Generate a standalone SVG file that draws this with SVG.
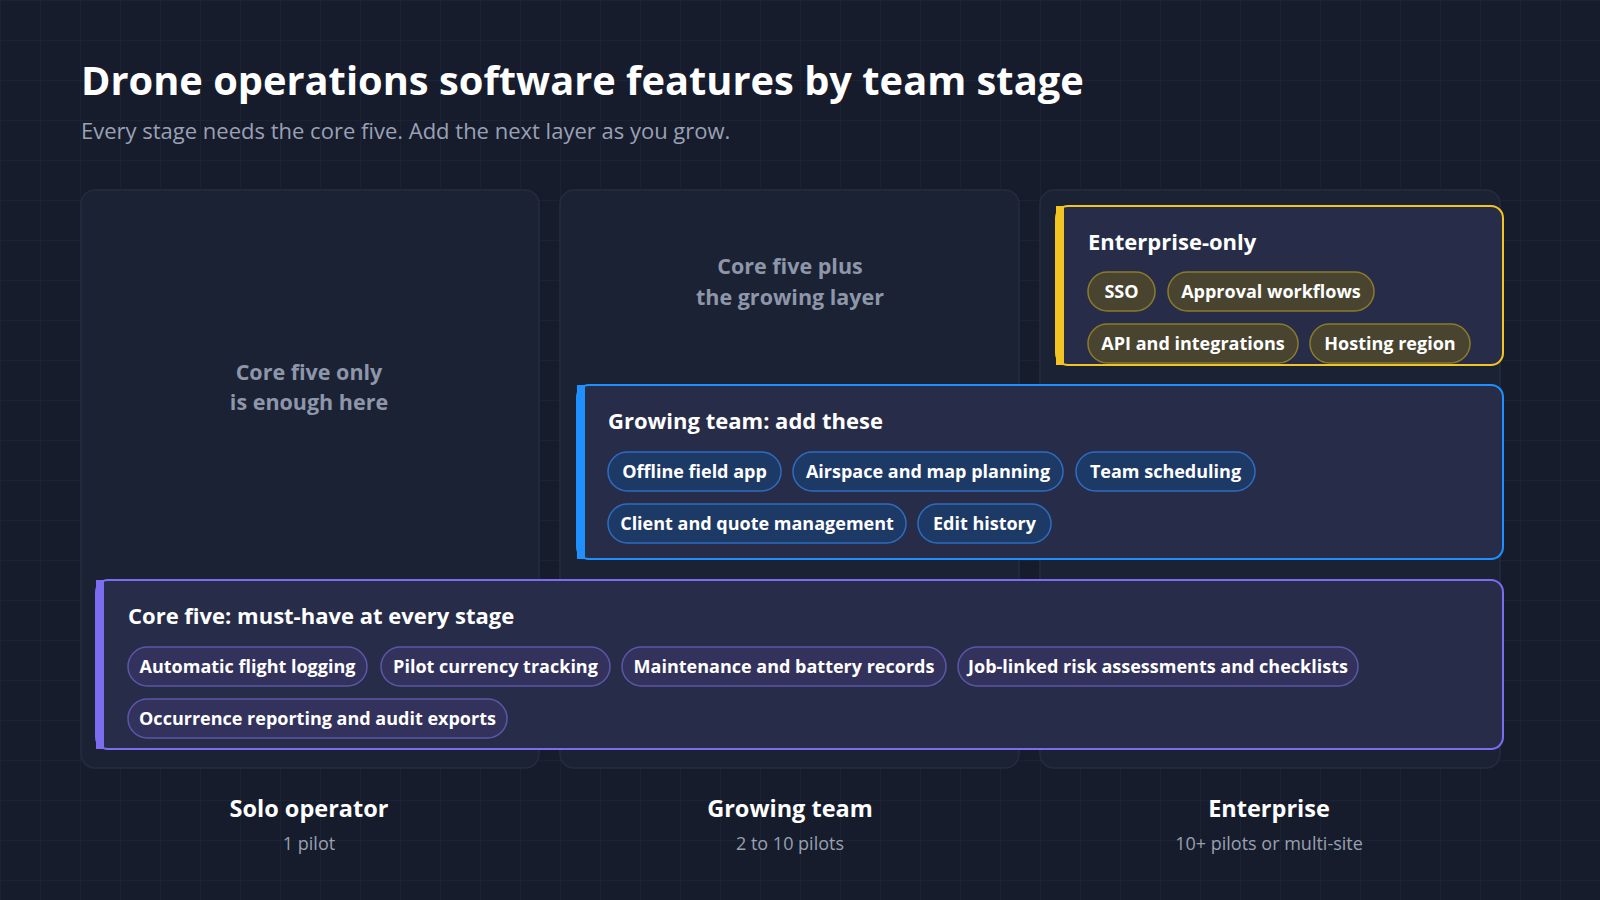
<svg xmlns="http://www.w3.org/2000/svg" width="1600" height="900" viewBox="0 0 1600 900">
<defs>
<pattern id="grid" width="40" height="40" patternUnits="userSpaceOnUse"><path d="M40 0H0V40" fill="none" stroke="#1f2739" stroke-width="1"/></pattern>
<style>
text{font-family:"Open Sans","Noto Sans",sans-serif}
.col{fill:#1b2234;stroke:#242c40;stroke-width:1.5}
.ct{fill:#8e96aa;font-size:21.5px;font-weight:700;text-anchor:middle}
.bt{fill:#ffffff;font-size:22px;font-weight:700}
.pt{fill:#ffffff;font-size:18px;font-weight:700;text-anchor:middle}
.yp{fill:#48442f;stroke:#8c7a2c;stroke-width:1.5}
.bp{fill:#1d3965;stroke:#2e6cc0;stroke-width:1.5}
.vp{fill:#33325c;stroke:#5b57a8;stroke-width:1.5}
.lab{fill:#fff;font-size:23.5px;font-weight:700;text-anchor:middle}
.sub{fill:#99a0b0;font-size:18px;text-anchor:middle}
</style>
</defs>
<rect width="1600" height="900" fill="#161c2c"/>
<rect width="1600" height="900" fill="url(#grid)"/>
<text x="81" y="95" fill="#fff" font-size="39.8" font-weight="700">Drone operations software features by team stage</text>
<text x="81" y="139" fill="#9aa1b4" font-size="22">Every stage needs the core five. Add the next layer as you grow.</text>
<g id="col-solo"><rect class="col" x="81" y="190" width="458" height="578" rx="14"/>
<text class="ct" x="309" y="380">Core five only</text><text class="ct" x="309" y="410">is enough here</text>
<text class="lab" x="309" y="817">Solo operator</text><text class="sub" x="309" y="850">1 pilot</text></g>
<g id="col-growing"><rect class="col" x="560" y="190" width="459" height="578" rx="14"/>
<text class="ct" x="790" y="274">Core five plus</text><text class="ct" x="790" y="305">the growing layer</text>
<text class="lab" x="790" y="817">Growing team</text><text class="sub" x="790" y="850">2 to 10 pilots</text></g>
<g id="col-enterprise"><rect class="col" x="1040" y="190" width="460" height="578" rx="14"/>
<text class="lab" x="1269" y="817">Enterprise</text><text class="sub" x="1269" y="850">10+ pilots or multi-site</text></g>
<g id="enterprise-only">
<rect x="1056" y="206" width="447" height="159" rx="12" fill="#272d48" stroke="#f2c523" stroke-width="2"/>
<rect x="1056" y="206" width="8" height="159" fill="#f2c523"/>
<text class="bt" x="1088" y="250">Enterprise-only</text>
<rect class="yp" x="1088" y="272" width="67" height="39" rx="19.5"/><text class="pt" x="1121.5" y="298">SSO</text>
<rect class="yp" x="1168" y="272" width="206" height="39" rx="19.5"/><text class="pt" x="1271" y="298">Approval workflows</text>
<rect class="yp" x="1088" y="324" width="210" height="39" rx="19.5"/><text class="pt" x="1193" y="350">API and integrations</text>
<rect class="yp" x="1310" y="324" width="160" height="39" rx="19.5"/><text class="pt" x="1390" y="350">Hosting region</text>
</g>
<g id="growing-layer">
<rect x="577" y="385" width="926" height="174" rx="12" fill="#272d48" stroke="#1e90ff" stroke-width="2"/>
<rect x="577" y="385" width="8" height="174" fill="#1e90ff"/>
<text class="bt" x="608" y="429">Growing team: add these</text>
<rect class="bp" x="608" y="452" width="173" height="39" rx="19.5"/><text class="pt" x="694.5" y="478">Offline field app</text>
<rect class="bp" x="793" y="452" width="270" height="39" rx="19.5"/><text class="pt" x="928" y="478">Airspace and map planning</text>
<rect class="bp" x="1076" y="452" width="179" height="39" rx="19.5"/><text class="pt" x="1165.5" y="478">Team scheduling</text>
<rect class="bp" x="608" y="504" width="298" height="39" rx="19.5"/><text class="pt" x="757" y="530">Client and quote management</text>
<rect class="bp" x="918" y="504" width="133" height="39" rx="19.5"/><text class="pt" x="984.5" y="530">Edit history</text>
</g>
<g id="core-five">
<rect x="96" y="580" width="1407" height="169" rx="12" fill="#272d48" stroke="#7c6cf0" stroke-width="2"/>
<rect x="96" y="580" width="8" height="169" fill="#7c6cf0"/>
<text class="bt" x="128" y="624">Core five: must-have at every stage</text>
<rect class="vp" x="128" y="647" width="239" height="39" rx="19.5"/><text class="pt" x="247.5" y="673">Automatic flight logging</text>
<rect class="vp" x="381" y="647" width="229" height="39" rx="19.5"/><text class="pt" x="495.5" y="673">Pilot currency tracking</text>
<rect class="vp" x="622" y="647" width="324" height="39" rx="19.5"/><text class="pt" x="784" y="673">Maintenance and battery records</text>
<rect class="vp" x="958" y="647" width="400" height="39" rx="19.5"/><text class="pt" x="1158" y="673">Job-linked risk assessments and checklists</text>
<rect class="vp" x="128" y="699" width="379" height="39" rx="19.5"/><text class="pt" x="317.5" y="725">Occurrence reporting and audit exports</text>
</g>
<g id="connectors"/>
</svg>
